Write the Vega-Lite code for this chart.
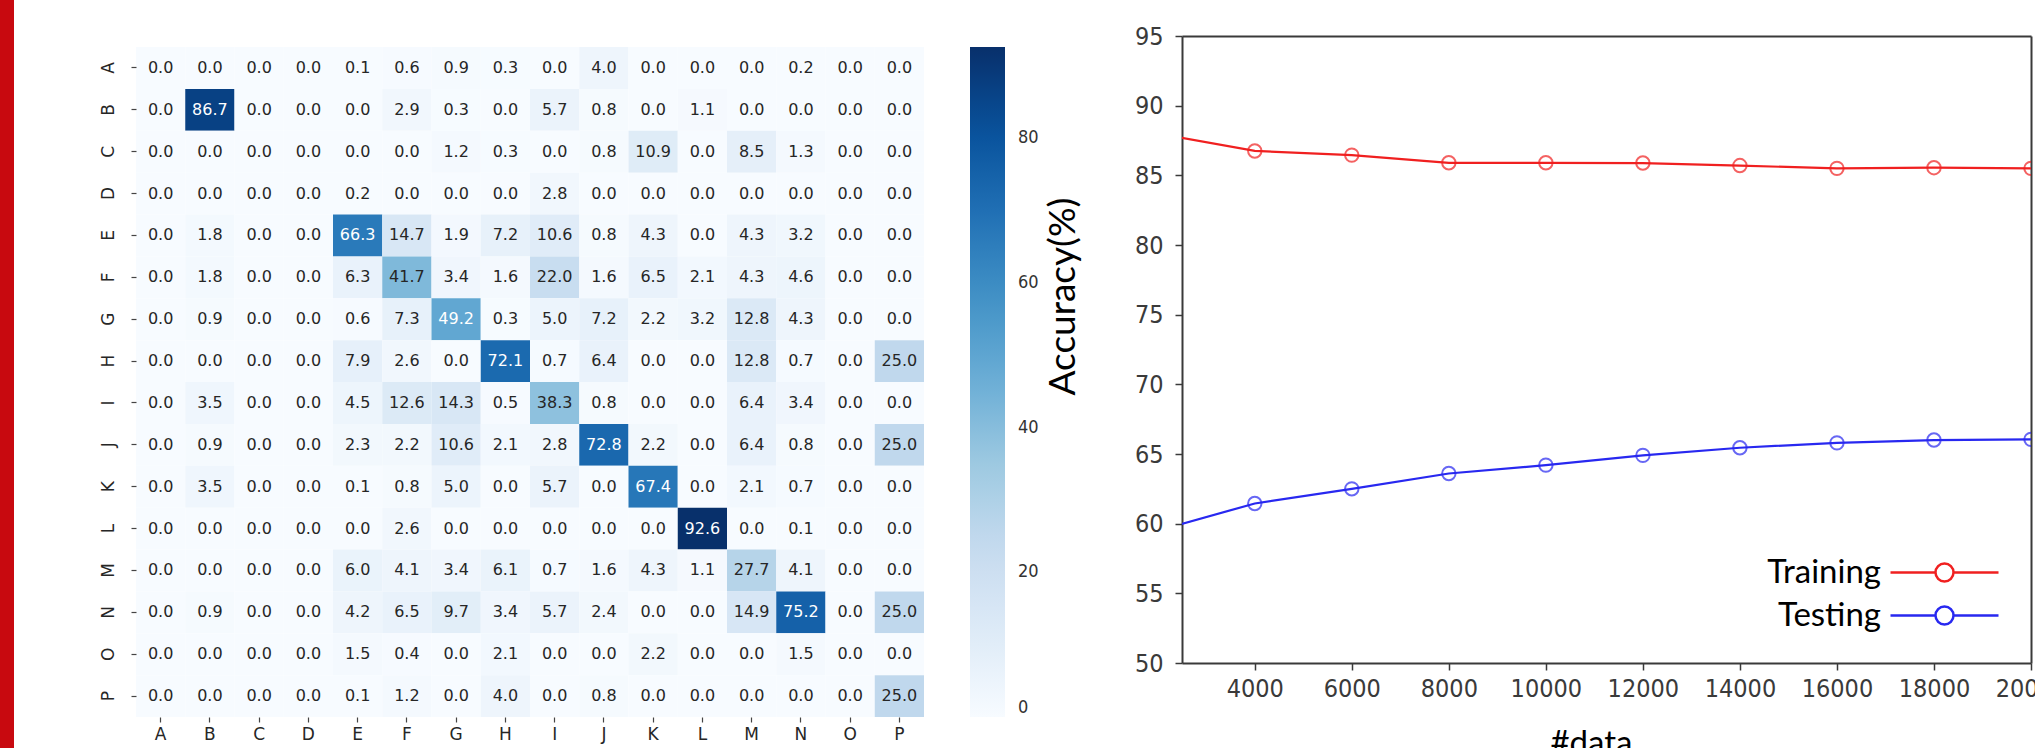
{
  "$schema": "https://vega.github.io/schema/vega-lite/v6.json",
  "background": "white",
  "padding": 0,
  "autosize": {"type": "pad"},
  "config": {"view": {"stroke": null}, "axis": {"grid": false}},
  "spacing": 85,
  "hconcat": [
    {
      "width": 14,
      "height": 748,
      "data": {"values": [{"part": "stripe"}]},
      "mark": {"type": "rect", "color": "#c8090f"},
      "encoding": {}
    },
    {
      "spacing": 5,
      "hconcat": [
        {
          "width": 788,
          "height": 717,
          "data": {"values": [
            {"r":"A","c":"A","v":0},{"r":"A","c":"B","v":0},{"r":"A","c":"C","v":0},{"r":"A","c":"D","v":0},{"r":"A","c":"E","v":0.1},{"r":"A","c":"F","v":0.6},{"r":"A","c":"G","v":0.9},{"r":"A","c":"H","v":0.3},{"r":"A","c":"I","v":0},{"r":"A","c":"J","v":4.0},{"r":"A","c":"K","v":0},{"r":"A","c":"L","v":0},{"r":"A","c":"M","v":0},{"r":"A","c":"N","v":0.2},{"r":"A","c":"O","v":0},{"r":"A","c":"P","v":0},
            {"r":"B","c":"A","v":0},{"r":"B","c":"B","v":86.7},{"r":"B","c":"C","v":0},{"r":"B","c":"D","v":0},{"r":"B","c":"E","v":0},{"r":"B","c":"F","v":2.9},{"r":"B","c":"G","v":0.3},{"r":"B","c":"H","v":0},{"r":"B","c":"I","v":5.7},{"r":"B","c":"J","v":0.8},{"r":"B","c":"K","v":0},{"r":"B","c":"L","v":1.1},{"r":"B","c":"M","v":0},{"r":"B","c":"N","v":0},{"r":"B","c":"O","v":0},{"r":"B","c":"P","v":0},
            {"r":"C","c":"A","v":0},{"r":"C","c":"B","v":0},{"r":"C","c":"C","v":0},{"r":"C","c":"D","v":0},{"r":"C","c":"E","v":0},{"r":"C","c":"F","v":0},{"r":"C","c":"G","v":1.2},{"r":"C","c":"H","v":0.3},{"r":"C","c":"I","v":0},{"r":"C","c":"J","v":0.8},{"r":"C","c":"K","v":10.9},{"r":"C","c":"L","v":0},{"r":"C","c":"M","v":8.5},{"r":"C","c":"N","v":1.3},{"r":"C","c":"O","v":0},{"r":"C","c":"P","v":0},
            {"r":"D","c":"A","v":0},{"r":"D","c":"B","v":0},{"r":"D","c":"C","v":0},{"r":"D","c":"D","v":0},{"r":"D","c":"E","v":0.2},{"r":"D","c":"F","v":0},{"r":"D","c":"G","v":0},{"r":"D","c":"H","v":0},{"r":"D","c":"I","v":2.8},{"r":"D","c":"J","v":0},{"r":"D","c":"K","v":0},{"r":"D","c":"L","v":0},{"r":"D","c":"M","v":0},{"r":"D","c":"N","v":0},{"r":"D","c":"O","v":0},{"r":"D","c":"P","v":0},
            {"r":"E","c":"A","v":0},{"r":"E","c":"B","v":1.8},{"r":"E","c":"C","v":0},{"r":"E","c":"D","v":0},{"r":"E","c":"E","v":66.3},{"r":"E","c":"F","v":14.7},{"r":"E","c":"G","v":1.9},{"r":"E","c":"H","v":7.2},{"r":"E","c":"I","v":10.6},{"r":"E","c":"J","v":0.8},{"r":"E","c":"K","v":4.3},{"r":"E","c":"L","v":0},{"r":"E","c":"M","v":4.3},{"r":"E","c":"N","v":3.2},{"r":"E","c":"O","v":0},{"r":"E","c":"P","v":0},
            {"r":"F","c":"A","v":0},{"r":"F","c":"B","v":1.8},{"r":"F","c":"C","v":0},{"r":"F","c":"D","v":0},{"r":"F","c":"E","v":6.3},{"r":"F","c":"F","v":41.7},{"r":"F","c":"G","v":3.4},{"r":"F","c":"H","v":1.6},{"r":"F","c":"I","v":22.0},{"r":"F","c":"J","v":1.6},{"r":"F","c":"K","v":6.5},{"r":"F","c":"L","v":2.1},{"r":"F","c":"M","v":4.3},{"r":"F","c":"N","v":4.6},{"r":"F","c":"O","v":0},{"r":"F","c":"P","v":0},
            {"r":"G","c":"A","v":0},{"r":"G","c":"B","v":0.9},{"r":"G","c":"C","v":0},{"r":"G","c":"D","v":0},{"r":"G","c":"E","v":0.6},{"r":"G","c":"F","v":7.3},{"r":"G","c":"G","v":49.2},{"r":"G","c":"H","v":0.3},{"r":"G","c":"I","v":5.0},{"r":"G","c":"J","v":7.2},{"r":"G","c":"K","v":2.2},{"r":"G","c":"L","v":3.2},{"r":"G","c":"M","v":12.8},{"r":"G","c":"N","v":4.3},{"r":"G","c":"O","v":0},{"r":"G","c":"P","v":0},
            {"r":"H","c":"A","v":0},{"r":"H","c":"B","v":0},{"r":"H","c":"C","v":0},{"r":"H","c":"D","v":0},{"r":"H","c":"E","v":7.9},{"r":"H","c":"F","v":2.6},{"r":"H","c":"G","v":0},{"r":"H","c":"H","v":72.1},{"r":"H","c":"I","v":0.7},{"r":"H","c":"J","v":6.4},{"r":"H","c":"K","v":0},{"r":"H","c":"L","v":0},{"r":"H","c":"M","v":12.8},{"r":"H","c":"N","v":0.7},{"r":"H","c":"O","v":0},{"r":"H","c":"P","v":25.0},
            {"r":"I","c":"A","v":0},{"r":"I","c":"B","v":3.5},{"r":"I","c":"C","v":0},{"r":"I","c":"D","v":0},{"r":"I","c":"E","v":4.5},{"r":"I","c":"F","v":12.6},{"r":"I","c":"G","v":14.3},{"r":"I","c":"H","v":0.5},{"r":"I","c":"I","v":38.3},{"r":"I","c":"J","v":0.8},{"r":"I","c":"K","v":0},{"r":"I","c":"L","v":0},{"r":"I","c":"M","v":6.4},{"r":"I","c":"N","v":3.4},{"r":"I","c":"O","v":0},{"r":"I","c":"P","v":0},
            {"r":"J","c":"A","v":0},{"r":"J","c":"B","v":0.9},{"r":"J","c":"C","v":0},{"r":"J","c":"D","v":0},{"r":"J","c":"E","v":2.3},{"r":"J","c":"F","v":2.2},{"r":"J","c":"G","v":10.6},{"r":"J","c":"H","v":2.1},{"r":"J","c":"I","v":2.8},{"r":"J","c":"J","v":72.8},{"r":"J","c":"K","v":2.2},{"r":"J","c":"L","v":0},{"r":"J","c":"M","v":6.4},{"r":"J","c":"N","v":0.8},{"r":"J","c":"O","v":0},{"r":"J","c":"P","v":25.0},
            {"r":"K","c":"A","v":0},{"r":"K","c":"B","v":3.5},{"r":"K","c":"C","v":0},{"r":"K","c":"D","v":0},{"r":"K","c":"E","v":0.1},{"r":"K","c":"F","v":0.8},{"r":"K","c":"G","v":5.0},{"r":"K","c":"H","v":0},{"r":"K","c":"I","v":5.7},{"r":"K","c":"J","v":0},{"r":"K","c":"K","v":67.4},{"r":"K","c":"L","v":0},{"r":"K","c":"M","v":2.1},{"r":"K","c":"N","v":0.7},{"r":"K","c":"O","v":0},{"r":"K","c":"P","v":0},
            {"r":"L","c":"A","v":0},{"r":"L","c":"B","v":0},{"r":"L","c":"C","v":0},{"r":"L","c":"D","v":0},{"r":"L","c":"E","v":0},{"r":"L","c":"F","v":2.6},{"r":"L","c":"G","v":0},{"r":"L","c":"H","v":0},{"r":"L","c":"I","v":0},{"r":"L","c":"J","v":0},{"r":"L","c":"K","v":0},{"r":"L","c":"L","v":92.6},{"r":"L","c":"M","v":0},{"r":"L","c":"N","v":0.1},{"r":"L","c":"O","v":0},{"r":"L","c":"P","v":0},
            {"r":"M","c":"A","v":0},{"r":"M","c":"B","v":0},{"r":"M","c":"C","v":0},{"r":"M","c":"D","v":0},{"r":"M","c":"E","v":6.0},{"r":"M","c":"F","v":4.1},{"r":"M","c":"G","v":3.4},{"r":"M","c":"H","v":6.1},{"r":"M","c":"I","v":0.7},{"r":"M","c":"J","v":1.6},{"r":"M","c":"K","v":4.3},{"r":"M","c":"L","v":1.1},{"r":"M","c":"M","v":27.7},{"r":"M","c":"N","v":4.1},{"r":"M","c":"O","v":0},{"r":"M","c":"P","v":0},
            {"r":"N","c":"A","v":0},{"r":"N","c":"B","v":0.9},{"r":"N","c":"C","v":0},{"r":"N","c":"D","v":0},{"r":"N","c":"E","v":4.2},{"r":"N","c":"F","v":6.5},{"r":"N","c":"G","v":9.7},{"r":"N","c":"H","v":3.4},{"r":"N","c":"I","v":5.7},{"r":"N","c":"J","v":2.4},{"r":"N","c":"K","v":0},{"r":"N","c":"L","v":0},{"r":"N","c":"M","v":14.9},{"r":"N","c":"N","v":75.2},{"r":"N","c":"O","v":0},{"r":"N","c":"P","v":25.0},
            {"r":"O","c":"A","v":0},{"r":"O","c":"B","v":0},{"r":"O","c":"C","v":0},{"r":"O","c":"D","v":0},{"r":"O","c":"E","v":1.5},{"r":"O","c":"F","v":0.4},{"r":"O","c":"G","v":0},{"r":"O","c":"H","v":2.1},{"r":"O","c":"I","v":0},{"r":"O","c":"J","v":0},{"r":"O","c":"K","v":2.2},{"r":"O","c":"L","v":0},{"r":"O","c":"M","v":0},{"r":"O","c":"N","v":1.5},{"r":"O","c":"O","v":0},{"r":"O","c":"P","v":0},
            {"r":"P","c":"A","v":0},{"r":"P","c":"B","v":0},{"r":"P","c":"C","v":0},{"r":"P","c":"D","v":0},{"r":"P","c":"E","v":0.1},{"r":"P","c":"F","v":1.2},{"r":"P","c":"G","v":0},{"r":"P","c":"H","v":4.0},{"r":"P","c":"I","v":0},{"r":"P","c":"J","v":0.8},{"r":"P","c":"K","v":0},{"r":"P","c":"L","v":0},{"r":"P","c":"M","v":0},{"r":"P","c":"N","v":0},{"r":"P","c":"O","v":0},{"r":"P","c":"P","v":25.0}
          ]},
          "encoding": {
            "x": {
              "field": "c", "type": "nominal",
              "scale": {"paddingInner": 0, "paddingOuter": 0},
              "axis": {"title": null, "orient": "bottom", "labelAngle": 0, "labelFont": "DejaVu Sans", "labelFontSize": 17, "labelColor": "#262626", "tickSize": 5, "tickColor": "#444444", "tickWidth": 1.2, "domain": false, "labelPadding": 4}
            },
            "y": {
              "field": "r", "type": "nominal",
              "scale": {"range": [47, 717], "paddingInner": 0, "paddingOuter": 0},
              "axis": {"title": null, "labelAngle": 270, "labelAlign": "center", "labelBaseline": "bottom", "labelFont": "DejaVu Sans", "labelFontSize": 17, "labelColor": "#262626", "tickSize": 5, "tickColor": "#444444", "tickWidth": 1.2, "domain": false, "labelPadding": 14}
            }
          },
          "layer": [
            {
              "mark": {"type": "rect"},
              "encoding": {
                "color": {
                  "field": "v", "type": "quantitative",
                  "scale": {
                    "domain": [0, 11.575, 23.15, 34.725, 46.3, 57.875, 69.45, 81.025, 92.6],
                    "range": ["#f7fbff", "#deebf7", "#c6dbef", "#9ecae1", "#6baed6", "#4292c6", "#2171b5", "#08519c", "#08306b"],
                    "interpolate": "rgb"
                  },
                  "legend": {"orient": "none", "legendX": 834, "legendY": 47, "direction": "vertical", "gradientLength": 670, "gradientThickness": 35, "gradientStrokeWidth": 0, "title": null, "values": [0, 20, 40, 60, 80], "labelFont": "DejaVu Sans Condensed", "labelFontSize": 18, "labelColor": "#333333", "labelOffset": 13, "labelOverlap": false, "labelBaseline": "middle", "padding": 0}
                }
              }
            },
            {
              "mark": {"type": "text", "font": "DejaVu Sans", "fontSize": 16},
              "encoding": {
                "text": {"field": "v", "type": "quantitative", "format": ".1f"},
                "color": {"condition": {"test": "datum.v > 46", "value": "#ffffff"}, "value": "#262626"}
              }
            }
          ]
        },
        {
          "width": 849,
          "height": 663,
          "data": {"values": [
            {"n": 2000, "acc": 88.0, "set": "Training"},
            {"n": 4000, "acc": 86.75, "set": "Training"},
            {"n": 6000, "acc": 86.45, "set": "Training"},
            {"n": 8000, "acc": 85.9, "set": "Training"},
            {"n": 10000, "acc": 85.9, "set": "Training"},
            {"n": 12000, "acc": 85.88, "set": "Training"},
            {"n": 14000, "acc": 85.7, "set": "Training"},
            {"n": 16000, "acc": 85.5, "set": "Training"},
            {"n": 18000, "acc": 85.55, "set": "Training"},
            {"n": 20000, "acc": 85.5, "set": "Training"},
            {"n": 2000, "acc": 59.5, "set": "Testing"},
            {"n": 4000, "acc": 61.45, "set": "Testing"},
            {"n": 6000, "acc": 62.5, "set": "Testing"},
            {"n": 8000, "acc": 63.6, "set": "Testing"},
            {"n": 10000, "acc": 64.2, "set": "Testing"},
            {"n": 12000, "acc": 64.9, "set": "Testing"},
            {"n": 14000, "acc": 65.45, "set": "Testing"},
            {"n": 16000, "acc": 65.8, "set": "Testing"},
            {"n": 18000, "acc": 66.0, "set": "Testing"},
            {"n": 20000, "acc": 66.05, "set": "Testing"}
          ]},
          "encoding": {
            "color": {
              "field": "set", "type": "nominal",
              "scale": {"domain": ["Training", "Testing"], "range": ["#f02020", "#2828f0"]},
              "legend": {
                "orient": "none", "legendX": 746, "legendY": 556, "title": null,
                "symbolType": "M-6,0L-1,0M1,0L6,0M1,0A1,1,0,1,1,-1,0A1,1,0,1,1,1,0",
                "symbolSize": 324, "symbolStrokeWidth": 2.5, "symbolFillColor": "transparent",
                "labelFont": "Lato", "labelFontSize": 33, "labelColor": "#000000", "labelAlign": "right", "labelOffset": -80, "labelLimit": 400,
                "rowPadding": 9, "padding": 0,
                "encode": {"symbols": {"update": {"stroke": {"signal": "datum.value === 'Testing' ? '#4672b6' : '#e41e1e'"}}}}
              }
            }
          },
          "layer": [
            {
              "mark": {"type": "line", "strokeWidth": 2.2, "clip": true},
              "encoding": {
                "x": {"field": "n", "type": "quantitative", "scale": {"domain": [2500, 20000], "nice": false, "zero": false},
                  "axis": {"orient": "bottom", "values": [4000, 6000, 8000, 10000, 12000, 14000, 16000, 18000, 20000], "format": "d", "labelFont": "DejaVu Sans Condensed", "labelFontSize": 25, "labelColor": "#3a3a3a", "labelFlush": false, "labelOverlap": false, "tickSize": 7, "tickColor": "#3a3a3a", "tickWidth": 1.5, "domainColor": "#3a3a3a", "domainWidth": 2, "labelPadding": 6,
                    "title": "#data", "titleFont": "Lato", "titleFontSize": 33, "titleFontWeight": "normal", "titleColor": "#000000", "titleX": 409, "titleY": 64, "titleAlign": "center", "titleBaseline": "top"}},
                "y": {"field": "acc", "type": "quantitative", "scale": {"domain": [50, 95], "range": [663, 36], "nice": false, "zero": false},
                  "axis": {"orient": "left", "values": [50, 55, 60, 65, 70, 75, 80, 85, 90, 95], "labelFont": "DejaVu Sans Condensed", "labelFontSize": 25, "labelColor": "#3a3a3a", "labelOverlap": false, "labelFlush": false, "tickSize": 7, "tickColor": "#3a3a3a", "tickWidth": 1.5, "domainColor": "#3a3a3a", "domainWidth": 2, "labelPadding": 12,
                    "title": "Accuracy(%)", "titleFont": "Lato", "titleFontSize": 37, "titleFontWeight": "normal", "titleColor": "#000000", "titleAngle": 270, "titleX": -100, "titleY": 296, "titleAlign": "center", "titleBaseline": "bottom"}}
              }
            },
            {
              "mark": {"type": "point", "filled": false, "size": 180, "strokeWidth": 2, "clip": true},
              "encoding": {
                "x": {"field": "n", "type": "quantitative", "scale": {"domain": [2500, 20000], "nice": false, "zero": false},
                  "axis": {"orient": "top", "labels": false, "ticks": false, "title": null, "domainColor": "#3a3a3a", "domainWidth": 2, "offset": -36}},
                "y": {"field": "acc", "type": "quantitative", "scale": {"domain": [50, 95], "range": [663, 36], "nice": false, "zero": false},
                  "axis": {"orient": "right", "labels": false, "ticks": false, "title": null, "domainColor": "#3a3a3a", "domainWidth": 2}}
              }
            }
          ],
          "resolve": {"axis": {"x": "independent", "y": "independent"}}
        }
      ]
    }
  ]
}
